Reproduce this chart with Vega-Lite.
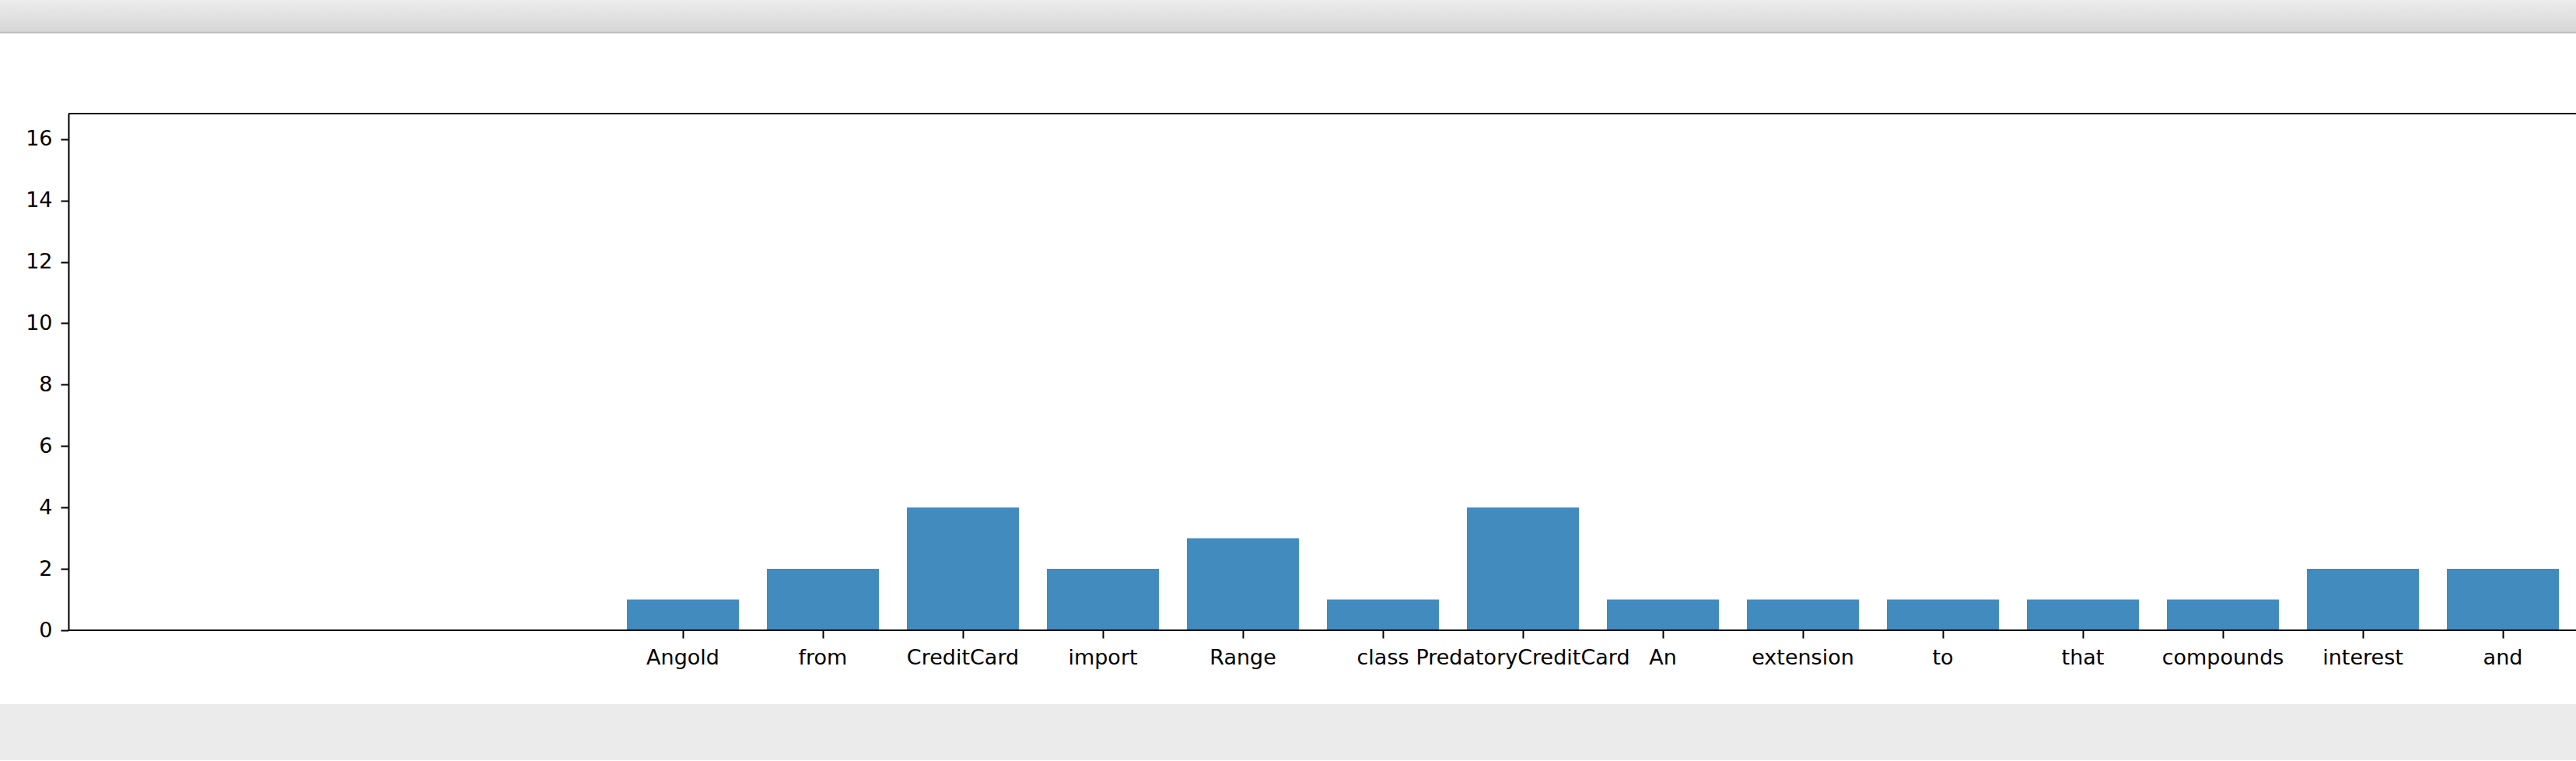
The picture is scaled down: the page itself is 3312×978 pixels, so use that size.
{
  "$schema": "https://vega.github.io/schema/vega-lite/v6.json",
  "padding": 0,
  "background": "white",
  "spacing": 0,
  "config": {"view": {"stroke": null}, "font": "DejaVu Sans"},
  "vconcat": [
    {
      "width": 3312, "height": 43,
      "data": {"values": [{}]},
      "mark": {"type": "rect", "color": {"gradient": "linear", "x1": 0, "y1": 0, "x2": 0, "y2": 1,
        "stops": [{"offset": 0, "color": "#ededed"}, {"offset": 0.94, "color": "#d6d6d6"}, {"offset": 0.95, "color": "#bdbdbd"}, {"offset": 1, "color": "#c4c4c4"}]}},
      "encoding": {}
    },
    {
      "width": 3312, "height": 102,
      "data": {"values": [{}]},
      "mark": {"type": "rect", "color": "white", "opacity": 0},
      "encoding": {}
    },
    {
      "width": 3312, "height": 664,
      "data": {"values": [
        {"word": "Angold", "count": 1},
        {"word": "from", "count": 2},
        {"word": "CreditCard", "count": 4},
        {"word": "import", "count": 2},
        {"word": "Range", "count": 3},
        {"word": "class", "count": 1},
        {"word": "PredatoryCreditCard", "count": 4},
        {"word": "An", "count": 1},
        {"word": "extension", "count": 1},
        {"word": "to", "count": 1},
        {"word": "that", "count": 1},
        {"word": "compounds", "count": 1},
        {"word": "interest", "count": 2},
        {"word": "and", "count": 2}
      ]},
      "resolve": {"scale": {"x": "independent"}, "axis": {"x": "independent"}},
      "layer": [
        {
          "mark": {"type": "bar", "color": "#428bbf"},
          "encoding": {
            "x": {"field": "word", "type": "nominal", "sort": null,
              "scale": {"range": [806, 3290], "paddingInner": 0.2, "paddingOuter": 0, "align": 0.5, "round": false},
              "axis": {"title": null, "domain": false, "labelAngle": 0, "labelFontSize": 27, "labelColor": "black", "labelLimit": 0,
                "labelPadding": 12, "tickSize": 10, "tickWidth": 2, "tickColor": "black", "grid": false}},
            "y": {"field": "count", "type": "quantitative",
              "scale": {"domain": [0, 16.83], "nice": false, "zero": true},
              "axis": {"title": null, "offset": -88,
                "values": [0, 2, 4, 6, 8, 10, 12, 14, 16], "labelFontSize": 27, "labelColor": "black",
                "labelPadding": 11, "tickSize": 10, "tickWidth": 2, "tickColor": "black", "domainColor": "black", "domainWidth": 2, "grid": false}}
          }
        },
        {
          "data": {"values": [{"edge": 0}, {"edge": 16.83}]},
          "mark": {"type": "rule", "color": "black", "strokeWidth": 2},
          "encoding": {
            "x": {"datum": 0, "type": "quantitative", "scale": {"domain": [0, 1], "range": [88, 3312]}, "axis": null},
            "x2": {"datum": 1},
            "y": {"field": "edge", "type": "quantitative"}
          }
        }
      ]
    },
    {
      "width": 3312, "height": 47,
      "data": {"values": [{}]},
      "mark": {"type": "rect", "color": "white", "opacity": 0},
      "encoding": {}
    },
    {
      "width": 3312, "height": 72,
      "data": {"values": [{}]},
      "mark": {"type": "rect", "color": "#ebebeb"},
      "encoding": {}
    }
  ]
}
